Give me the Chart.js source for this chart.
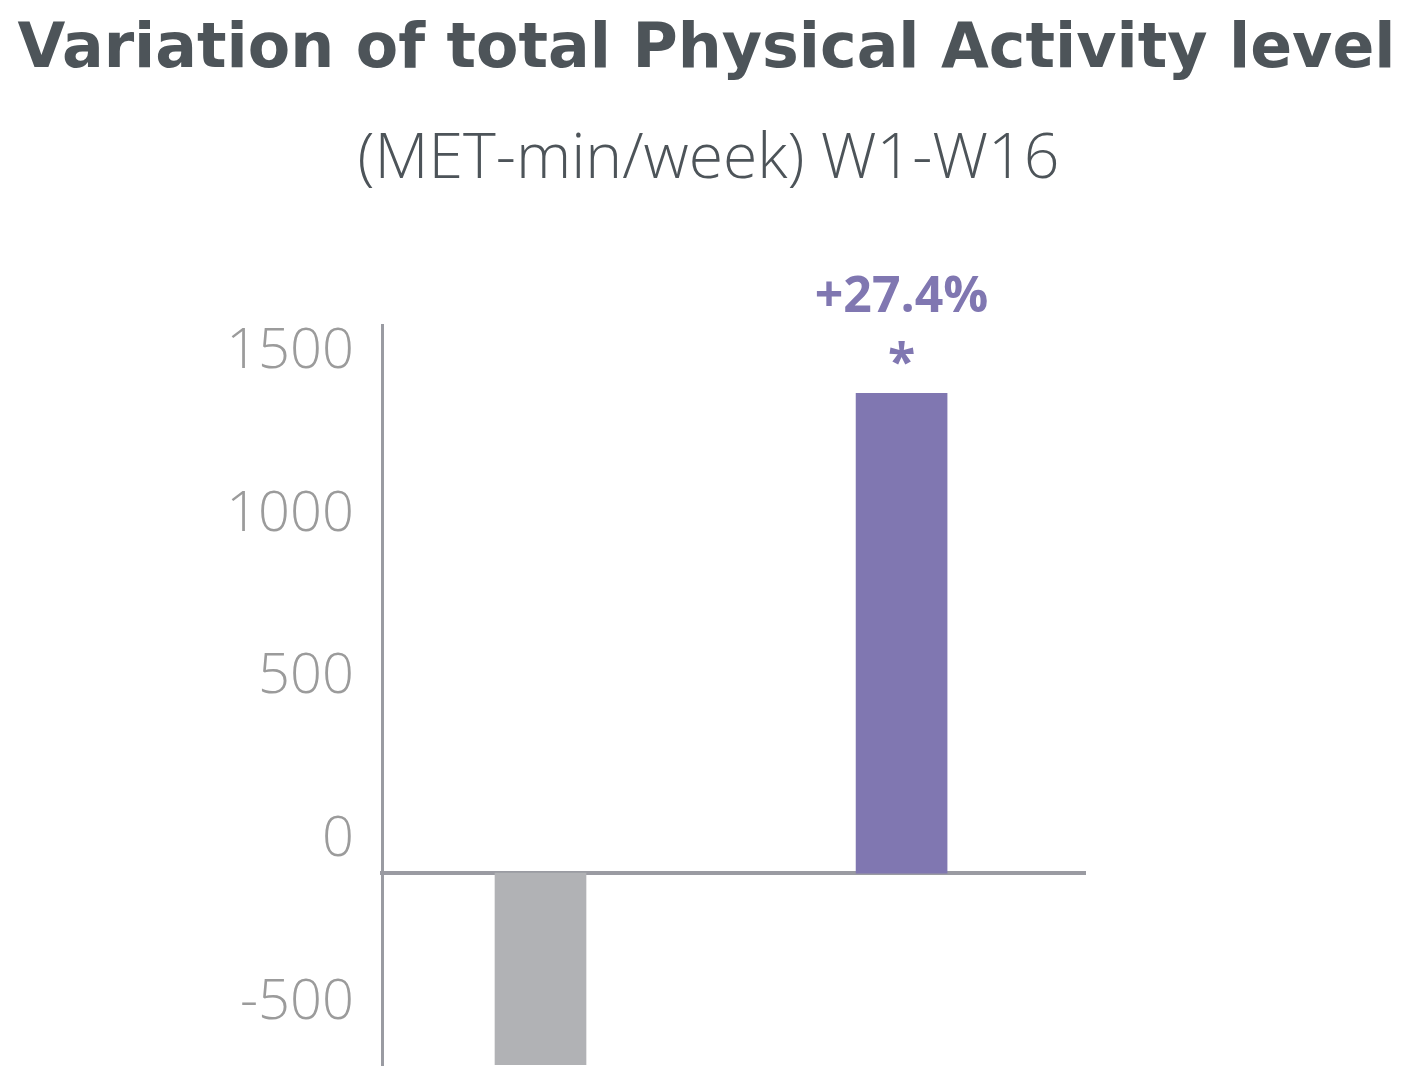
<!DOCTYPE html>
<html>
<head>
<meta charset="utf-8">
<script src="https://cdn.jsdelivr.net/npm/chart.js@4"></script>
<style>
  html, body { margin: 0; padding: 0; background: #ffffff; }
  #wrap { width: 1413px; height: 1080px; }
</style>
</head>
<body>
<div id="wrap"><canvas id="c" width="1413" height="1080"></canvas></div>
<script>
// ---- data ----
const categories = ['Control', 'Intervention'];
const changeValues = [-590, 1475];
const barColors = ['#b1b2b5', '#8077b1'];
const changeLabels = ['', '+27.4%'];
const significance = ['', '*'];
const yTickValues = [-500, 0, 500, 1000, 1500];
const titleText = 'Variation of total Physical Activity level';
const subtitleText = '(MET-min/week) W1-W16';

const axisColor = '#9a9ba2';
const textColor = '#4d5459';

function fitSize(text, weight, family, targetWidth) {
  const c = document.createElement('canvas').getContext('2d');
  c.font = weight + ' 100px ' + family;
  return 100 * targetWidth / c.measureText(text).width;
}
const titleFont = '700 ' + fitSize(titleText, '700', '"DejaVu Sans"', 1378).toFixed(1) + 'px "DejaVu Sans"';
const subtitleFont = '300 ' + fitSize(subtitleText, '300', '"Open Sans"', 702).toFixed(1) + 'px "Open Sans"';

const headerPlugin = {
  id: 'header',
  afterDraw(chart) {
    const ctx = chart.ctx;
    ctx.save();
    ctx.fillStyle = textColor;
    ctx.textAlign = 'center';
    ctx.textBaseline = 'alphabetic';
    ctx.font = titleFont;
    ctx.fillText(titleText, chart.width / 2, 67);
    ctx.font = subtitleFont;
    ctx.fillText(subtitleText, chart.width / 2 + 2, 178);
    ctx.restore();
  }
};

const barLabelPlugin = {
  id: 'barLabels',
  afterDatasetsDraw(chart) {
    const ctx = chart.ctx;
    const meta = chart.getDatasetMeta(0);
    meta.data.forEach((el, i) => {
      ctx.save();
      ctx.fillStyle = barColors[i];
      ctx.textAlign = 'center';
      ctx.textBaseline = 'alphabetic';
      ctx.font = '700 50px "Open Sans"';
      if (changeLabels[i]) ctx.fillText(changeLabels[i], el.x, el.y - 81);
      if (significance[i]) ctx.fillText(significance[i], el.x, el.y - 14);
      ctx.restore();
    });
  }
};

new Chart(document.getElementById('c'), {
  type: 'bar',
  data: {
    datasets: [{
      data: categories.map((c, i) => ({ x: i, y: changeValues[i] })),
      backgroundColor: barColors,
      borderWidth: 0,
      barThickness: 91
    }]
  },
  options: {
    responsive: false,
    animation: false,
    events: [],
    layout: { padding: { left: 0, right: 328, top: 325, bottom: 15 } },
    plugins: {
      legend: { display: false },
      tooltip: { enabled: false },
      title: { display: false }
    },
    scales: {
      x: {
        type: 'linear',
        offset: false,
        min: -0.439,
        max: 1.508,
        position: { y: 0 },
        z: 1,
        grid: { display: false, drawTicks: false },
        border: { display: true, color: axisColor, width: 4 },
        ticks: { display: false }
      },
      y: {
        type: 'linear',
        min: -590,
        max: 1685,
        grid: { display: false, drawTicks: false },
        border: { display: true, color: axisColor, width: 3 },
        afterBuildTicks(scale) { scale.ticks = yTickValues.map(v => ({ value: v })); },
        afterFit(scale) { scale.width = 382; scale.paddingTop = 0; scale.paddingBottom = 0; },
        ticks: {
          color: '#9b9b9b',
          padding: 28,
          labelOffset: -33,
          font: { family: '"Open Sans"', size: 56, weight: '300' },
          callback: v => String(v)
        }
      }
    }
  },
  plugins: [headerPlugin, barLabelPlugin]
});
</script>
</body>
</html>
